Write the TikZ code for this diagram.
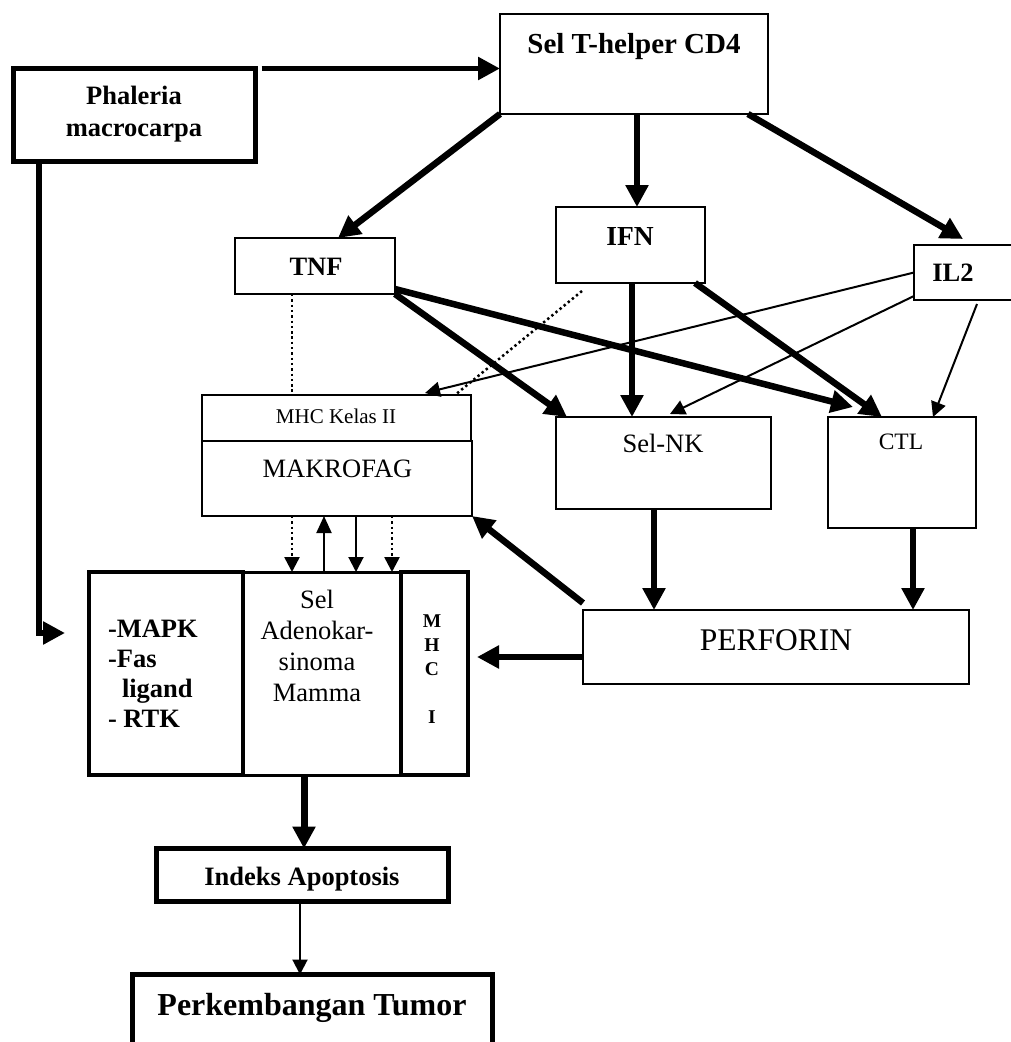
\documentclass[tikz,border=0pt]{standalone}
\usepackage{fontspec}
\setmainfont{Liberation Serif}
\usetikzlibrary{arrows.meta}
\begin{document}
\begin{tikzpicture}[x=1pt,y=-1pt,
  box/.style={draw, line width=2.2pt, rectangle, inner sep=0pt, outer sep=0pt},
  tbox/.style={box, line width=5pt},
  lbl/.style={inner sep=0pt, outer sep=0pt, anchor=base},
  bigarrow/.style={line width=6.5pt, -{Triangle[length=22pt,width=22pt]}},
  thinarrow/.style={line width=2pt, -{Triangle[length=15pt,width=15pt]}},
  dotline/.style={line width=2.5pt, dash pattern=on 2.4pt off 2.9pt},
  dotarrow/.style={dotline, -{Triangle[length=15pt,width=15pt]}},
  bA/.style={font=\fontsize{26.5}{32}\selectfont\bfseries},
  rA/.style={font=\fontsize{26.5}{31.3}\selectfont}]
\useasboundingbox (0,0) rectangle (1011,1042);
\fill[white] (0,0) rectangle (1011,1042);
\clip (0,0) rectangle (1011,1042);

% boxes
\node[tbox, minimum width=242pt, minimum height=93pt] (phal) at (134.5,115) {};
\node[box, minimum width=268pt, minimum height=100pt] (selt) at (634,64) {};
\node[box, minimum width=160pt, minimum height=56pt] (tnf) at (315,266) {};
\node[box, minimum width=149pt, minimum height=76pt] (ifn) at (630.5,245) {};
\node[box, minimum width=116pt, minimum height=55pt] (il2) at (972,272.5) {};
\node[box, minimum width=269pt, minimum height=46pt] (mhc2) at (336.5,418) {};
\node[box, minimum width=270pt, minimum height=75pt] (makro) at (337,478.5) {};
\node[box, minimum width=215pt, minimum height=92pt] (selnk) at (663.5,463) {};
\node[box, minimum width=148pt, minimum height=111pt] (ctl) at (902,472.5) {};
\node[box, minimum width=386pt, minimum height=74pt] (perf) at (776,647) {};
\node[box, line width=4pt, minimum width=154pt, minimum height=203pt] (mapk) at (166,673.5) {};
\node[box, line width=3pt, minimum width=158pt, minimum height=203pt] (adeno) at (322,673.5) {};
\node[box, line width=4pt, minimum width=67pt, minimum height=203pt] (mhci) at (434.5,673.5) {};
\node[tbox, minimum width=292pt, minimum height=53pt] (indeks) at (302.5,875) {};
\node[tbox, minimum width=360pt, minimum height=85pt] (perk) at (312.5,1017) {};

% texts
\node[lbl, bA] (tphal) at (134,104) {\begin{tabular}[t]{@{}c@{}}Phaleria\\macrocarpa\end{tabular}};
\node[lbl, font=\fontsize{29}{34}\selectfont\bfseries] (tselt) at (634,53) {Sel T-helper CD4};
\node[lbl, bA] (ttnf) at (316,275) {TNF};
\node[lbl, font=\fontsize{27.5}{32}\selectfont\bfseries] (tifn) at (630,245) {IFN};
\node[lbl, bA] (til2) at (953,281) {IL2};
\node[lbl, font=\fontsize{21}{25}\selectfont] (tmhc2) at (336,423) {MHC Kelas II};
\node[lbl, rA] (tmakro) at (337.5,477) {MAKROFAG};
\node[lbl, rA] (tselnk) at (663,452) {Sel-NK};
\node[lbl, font=\fontsize{23.5}{28}\selectfont] (tctl) at (901,449) {CTL};
\node[lbl, font=\fontsize{31.5}{36}\selectfont] (tperf) at (776,650) {PERFORIN};
\node[lbl, anchor=base west, font=\fontsize{26.5}{30.3}\selectfont\bfseries] (tmapk) at (108,637)
  {\begin{tabular}[t]{@{}l@{}}-MAPK\\-Fas\\\hspace*{14pt}ligand\\- RTK\end{tabular}};
\node[lbl, rA] (tadeno) at (317,608)
  {\begin{tabular}[t]{@{}c@{}}Sel\\Adenokar-\\sinoma\\Mamma\end{tabular}};
\node[lbl, font=\fontsize{19.5}{24}\selectfont\bfseries] (tmhci) at (432,627)
  {\begin{tabular}[t]{@{}c@{}}M\\H\\C\\ \\I\end{tabular}};
\node[lbl, bA] (tindeks) at (302,885) {Indeks Apoptosis};
\node[lbl, font=\fontsize{32}{38}\selectfont\bfseries] (tperk) at (312,1015) {Perkembangan Tumor};

% connectors
\coordinate (pin) at (65,633);
\draw[bigarrow, line width=5.5pt] ([xshift=6pt]phal.north east) -- (selt.west |- phal.north east);
\draw[bigarrow, line width=5.5pt] ([xshift=25.5pt]phal.south west) |- (pin);
\draw[bigarrow] (selt.south west) -- ([xshift=23pt]tnf.north);
\draw[bigarrow] ([xshift=3pt]selt.south) -- ([xshift=6.5pt]ifn.north);
\draw[bigarrow] ([xshift=-20pt]selt.south east) -- ([xshift=-9pt,yshift=6pt]il2.north);
\draw[dotline] ([xshift=-23pt]tnf.south) -- ([xshift=-23pt]tnf.south |- mhc2.north);
\draw[dotline] ([xshift=26pt,yshift=-8pt]ifn.south west) -- ([xshift=-16pt]mhc2.north east);
\draw[thinarrow] (il2.west) -- ([xshift=-46pt,yshift=2pt]mhc2.north east);
\draw[bigarrow] (tnf.south east) -- ([xshift=11pt]selnk.north west);
\draw[bigarrow] ([yshift=5pt]tnf.south east) -- ([xshift=25pt,yshift=10pt]ctl.north west);
\draw[bigarrow] ([xshift=1.5pt]ifn.south) -- ([xshift=1.5pt]ifn.south |- selnk.north);
\draw[bigarrow] ([xshift=-10pt]ifn.south east) -- ([xshift=54pt]ctl.north west);
\draw[thinarrow] ([yshift=4pt]il2.south west) -- ([xshift=6.5pt,yshift=3pt]selnk.north);
\draw[thinarrow] ([xshift=5pt,yshift=-4pt]il2.south) -- ([xshift=31pt]ctl.north);
\draw[bigarrow] ([xshift=-9.5pt]selnk.south) -- ([xshift=-9.5pt]selnk.south |- perf.north);
\draw[bigarrow] ([xshift=11pt]ctl.south) -- ([xshift=11pt]ctl.south |- perf.north);
\draw[bigarrow] ([yshift=7pt]perf.north west) -- (makro.south east);
\draw[bigarrow] ([yshift=-10pt]perf.west) -- ([xshift=9pt,yshift=16.5pt]mhci.east);
\draw[dotarrow] ([xshift=-45pt]makro.south) -- ([xshift=-45pt]makro.south |- adeno.north);
\draw[thinarrow, -{Triangle[length=17pt,width=15pt]}] ([xshift=-13pt]makro.south |- adeno.north) -- ([xshift=-13pt]makro.south);
\draw[thinarrow] ([xshift=19pt]makro.south) -- ([xshift=19pt]makro.south |- adeno.north);
\draw[dotarrow] ([xshift=55pt]makro.south) -- ([xshift=55pt]makro.south |- adeno.north);
\draw[bigarrow, line width=7pt] ([xshift=-18pt]adeno.south) -- ([xshift=-18pt]adeno.south |- indeks.north);
\draw[thinarrow] ([xshift=-2.5pt]indeks.south) -- ([xshift=-2.5pt]indeks.south |- perk.north);
\end{tikzpicture}
\end{document}
